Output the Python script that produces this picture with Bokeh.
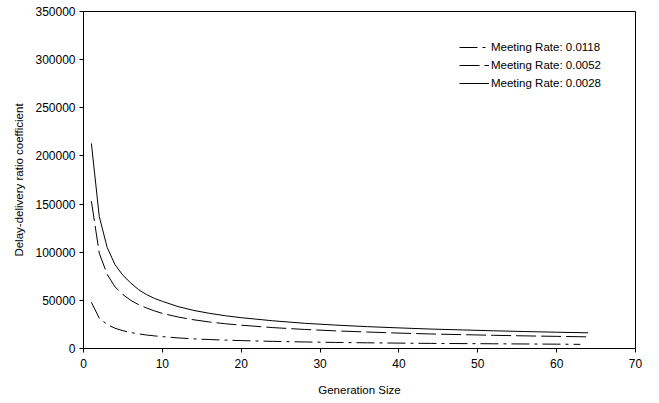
from bokeh.plotting import figure
from bokeh.models import Range1d, FixedTicker, BasicTickFormatter, Legend, LegendItem
from bokeh.embed import file_html
from bokeh.resources import INLINE

# Generation sizes sampled
gen_size = [1, 2, 3, 4, 5, 6, 7, 8, 9, 10, 12, 14, 16, 18, 20, 24, 28, 32, 36, 40, 44, 48, 52, 56, 60, 64]

rate_0028 = [213000, 137000, 105000, 87000, 76000, 68000, 61000, 56000, 52000, 49000,
             43500, 39500, 36500, 34000, 32000, 28800, 26200, 24300, 22700, 21400,
             20200, 19300, 18400, 17600, 16900, 16300]
rate_0052 = [153000, 99000, 77000, 64000, 56000, 50000, 45500, 42000, 39000, 36500,
             32700, 29800, 27500, 25700, 24200, 21700, 19800, 18300, 17100, 16000,
             15100, 14400, 13700, 13100, 12600, 12100]
gen_size_0118 = [1, 2, 3, 4, 5, 6, 7, 8, 9, 10, 12, 14, 16, 18, 20, 24, 28, 32, 36, 40, 44, 48, 52, 56, 60, 63]
rate_0118 = [48000, 31500, 25000, 21000, 18500, 16600, 15200, 14000, 13100, 12300,
             11000, 10000, 9300, 8700, 8200, 7400, 6800, 6300, 5900, 5600,
             5300, 5100, 4900, 4700, 4500, 4300]

labels = ["Meeting Rate: 0.0118", "Meeting Rate: 0.0052", "Meeting Rate: 0.0028"]
x_ticks = [0, 10, 20, 30, 40, 50, 60, 70]
y_ticks = [0, 50000, 100000, 150000, 200000, 250000, 300000, 350000]

FONT = "Liberation Sans"

p = figure(width=659, height=403, output_backend="svg", toolbar_location=None,
           x_range=Range1d(0, 70), y_range=Range1d(0, 350000),
           min_border_left=83, min_border_right=24, min_border_top=11, min_border_bottom=55)
p.outline_line_color = "black"
p.outline_line_width = 1
p.xgrid.visible = False
p.ygrid.visible = False
p.background_fill_color = "white"
p.border_fill_color = "white"

r1 = p.line(gen_size_0118, rate_0118, line_color="black", line_width=1, line_dash="18 5 3 5")
r2 = p.line(gen_size, rate_0052, line_color="black", line_width=1, line_dash="20 5")
r3 = p.line(gen_size, rate_0028, line_color="black", line_width=1)

for ax in (p.xaxis[0], p.yaxis[0]):
    ax.axis_line_color = "black"
    ax.major_tick_line_color = "black"
    ax.major_tick_out = 4
    ax.major_tick_in = 0
    ax.minor_tick_line_color = None
    ax.major_label_text_font = FONT
    ax.major_label_text_font_size = "12px"
    ax.major_label_text_color = "black"
    ax.axis_label_text_font = FONT
    ax.axis_label_text_font_size = "11.5px"
    ax.axis_label_text_font_style = "normal"
    ax.axis_label_text_color = "black"

p.xaxis[0].ticker = FixedTicker(ticks=x_ticks)
p.yaxis[0].ticker = FixedTicker(ticks=y_ticks)
p.yaxis[0].formatter = BasicTickFormatter(use_scientific=False)
p.xaxis[0].axis_label = "Generation Size"
p.yaxis[0].axis_label = "Delay-delivery ratio coefficient"
p.xaxis[0].major_label_standoff = 6
p.yaxis[0].major_label_standoff = 4
p.xaxis[0].axis_label_standoff = 13
p.yaxis[0].axis_label_standoff = 7

legend = Legend(items=[LegendItem(label=labels[0], renderers=[r1]),
                       LegendItem(label=labels[1], renderers=[r2]),
                       LegendItem(label=labels[2], renderers=[r3])],
                location=(376, 258))
legend.border_line_color = None
legend.background_fill_alpha = 0
legend.padding = 0
legend.margin = 0
legend.spacing = 4
legend.glyph_width = 30
legend.glyph_height = 14
legend.label_height = 14
legend.label_standoff = 2
legend.label_text_font = FONT
legend.label_text_font_size = "11.5px"
legend.label_text_color = "black"
p.add_layout(legend, "center")

open("out.html", "w").write(file_html(p, INLINE))
